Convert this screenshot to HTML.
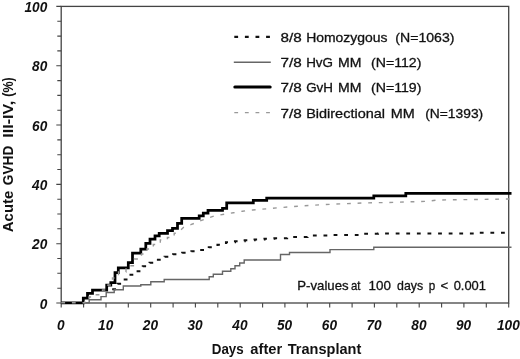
<!DOCTYPE html>
<html><head><meta charset="utf-8"><title>Acute GVHD III-IV</title>
<style>
html,body{margin:0;padding:0;background:#fff;}
svg{display:block;will-change:transform;}
text{font-family:"Liberation Sans",Arial,sans-serif;fill:#111;}
.bi{font-weight:bold;font-style:italic;font-size:14.8px;}
.b{font-weight:bold;font-size:14.2px;}
.r{font-size:13.2px;stroke:#111;stroke-width:0.3px;}
</style></head>
<body>
<svg width="520" height="359" viewBox="0 0 520 359">
<rect width="520" height="359" fill="#fff"/>
<rect x="61.2" y="6.4" width="447.5" height="296.6" fill="none" stroke="#444" stroke-width="1.3"/>
<path d="M56.3 303.0H61.2M57.3 288.2H61.2M57.3 273.3H61.2M57.3 258.5H61.2M56.3 243.7H61.2M57.3 228.8H61.2M57.3 214.0H61.2M57.3 199.2H61.2M56.3 184.4H61.2M57.3 169.5H61.2M57.3 154.7H61.2M57.3 139.9H61.2M56.3 125.0H61.2M57.3 110.2H61.2M57.3 95.4H61.2M57.3 80.6H61.2M56.3 65.7H61.2M57.3 50.9H61.2M57.3 36.1H61.2M57.3 21.2H61.2M56.3 6.4H61.2M61.2 303.0V307.5M83.6 303.0V307.5M106.0 303.0V307.5M128.3 303.0V307.5M150.7 303.0V307.5M173.1 303.0V307.5M195.4 303.0V307.5M217.8 303.0V307.5M240.2 303.0V307.5M262.6 303.0V307.5M284.9 303.0V307.5M307.3 303.0V307.5M329.7 303.0V307.5M352.1 303.0V307.5M374.4 303.0V307.5M396.8 303.0V307.5M419.2 303.0V307.5M441.6 303.0V307.5M463.9 303.0V307.5M486.3 303.0V307.5M508.7 303.0V307.5" stroke="#444" stroke-width="1.1" fill="none"/>
<text class="bi" x="39.7" y="308.5" textLength="7.6" lengthAdjust="spacingAndGlyphs">0</text>
<text class="bi" x="32.1" y="249.2" textLength="15.2" lengthAdjust="spacingAndGlyphs">20</text>
<text class="bi" x="32.1" y="189.9" textLength="15.2" lengthAdjust="spacingAndGlyphs">40</text>
<text class="bi" x="32.1" y="130.5" textLength="15.2" lengthAdjust="spacingAndGlyphs">60</text>
<text class="bi" x="32.1" y="71.2" textLength="15.2" lengthAdjust="spacingAndGlyphs">80</text>
<text class="bi" x="24.5" y="11.9" textLength="22.8" lengthAdjust="spacingAndGlyphs">100</text>
<text class="bi" x="57.1" y="330" textLength="7.6" lengthAdjust="spacingAndGlyphs">0</text>
<text class="bi" x="98.1" y="330" textLength="15.2" lengthAdjust="spacingAndGlyphs">10</text>
<text class="bi" x="142.8" y="330" textLength="15.2" lengthAdjust="spacingAndGlyphs">20</text>
<text class="bi" x="187.5" y="330" textLength="15.2" lengthAdjust="spacingAndGlyphs">30</text>
<text class="bi" x="232.3" y="330" textLength="15.2" lengthAdjust="spacingAndGlyphs">40</text>
<text class="bi" x="277.0" y="330" textLength="15.2" lengthAdjust="spacingAndGlyphs">50</text>
<text class="bi" x="321.8" y="330" textLength="15.2" lengthAdjust="spacingAndGlyphs">60</text>
<text class="bi" x="366.5" y="330" textLength="15.2" lengthAdjust="spacingAndGlyphs">70</text>
<text class="bi" x="411.3" y="330" textLength="15.2" lengthAdjust="spacingAndGlyphs">80</text>
<text class="bi" x="456.0" y="330" textLength="15.2" lengthAdjust="spacingAndGlyphs">90</text>
<text class="bi" x="497.0" y="330" textLength="22.8" lengthAdjust="spacingAndGlyphs">100</text>
<g transform="translate(13.1,232.2) rotate(-90)">
<text class="b" y="0"><tspan x="0" textLength="41.5" lengthAdjust="spacingAndGlyphs">Acute</tspan> <tspan x="47" textLength="39.5" lengthAdjust="spacingAndGlyphs">GVHD</tspan> <tspan x="94.5" textLength="37.0" lengthAdjust="spacingAndGlyphs">III-IV,</tspan> <tspan x="135.5" textLength="19.5" lengthAdjust="spacingAndGlyphs">(%)</tspan></text>
</g>
<text class="b" y="354.1"><tspan x="211.8" textLength="31.9" lengthAdjust="spacingAndGlyphs">Days</tspan> <tspan x="250.3" textLength="31.9" lengthAdjust="spacingAndGlyphs">after</tspan> <tspan x="287.8" textLength="73.5" lengthAdjust="spacingAndGlyphs">Transplant</tspan></text>
<text class="r" y="289.7"><tspan x="297.3" textLength="51.3" lengthAdjust="spacingAndGlyphs">P-values</tspan> <tspan x="351" textLength="9.5" lengthAdjust="spacingAndGlyphs">at</tspan> <tspan x="368.6" textLength="22.4" lengthAdjust="spacingAndGlyphs">100</tspan> <tspan x="397.1" textLength="26.1" lengthAdjust="spacingAndGlyphs">days</tspan> <tspan x="428.8" textLength="6.5" lengthAdjust="spacingAndGlyphs">p</tspan> <tspan x="440.5" textLength="7.7" lengthAdjust="spacingAndGlyphs">&lt;</tspan> <tspan x="453.7" textLength="32.3" lengthAdjust="spacingAndGlyphs">0.001</tspan></text>
<text class="r" y="41.8"><tspan x="280.6" textLength="21.2" lengthAdjust="spacingAndGlyphs">8/8</tspan> <tspan x="306.2" textLength="81.3" lengthAdjust="spacingAndGlyphs">Homozygous</tspan> <tspan x="395.3" textLength="59.2" lengthAdjust="spacingAndGlyphs">(N=1063)</tspan></text>
<text class="r" y="67.1"><tspan x="280.6" textLength="21.2" lengthAdjust="spacingAndGlyphs">7/8</tspan> <tspan x="306.2" textLength="26.8" lengthAdjust="spacingAndGlyphs">HvG</tspan> <tspan x="338" textLength="23.4" lengthAdjust="spacingAndGlyphs">MM</tspan> <tspan x="371" textLength="50.4" lengthAdjust="spacingAndGlyphs">(N=112)</tspan></text>
<text class="r" y="92.4"><tspan x="280.6" textLength="21.2" lengthAdjust="spacingAndGlyphs">7/8</tspan> <tspan x="306.2" textLength="26.8" lengthAdjust="spacingAndGlyphs">GvH</tspan> <tspan x="338" textLength="23.4" lengthAdjust="spacingAndGlyphs">MM</tspan> <tspan x="371" textLength="50.4" lengthAdjust="spacingAndGlyphs">(N=119)</tspan></text>
<text class="r" y="117.7"><tspan x="280.6" textLength="21.2" lengthAdjust="spacingAndGlyphs">7/8</tspan> <tspan x="306.2" textLength="78.8" lengthAdjust="spacingAndGlyphs">Bidirectional</tspan> <tspan x="390.8" textLength="24.0" lengthAdjust="spacingAndGlyphs">MM</tspan> <tspan x="425.2" textLength="58.0" lengthAdjust="spacingAndGlyphs">(N=1393)</tspan></text>
<path d="M234.3 36.9H270.6" stroke="#111" stroke-width="2.1" stroke-dasharray="3.8 6.8" fill="none"/>
<path d="M233.8 62.3H270.8" stroke="#666" stroke-width="1.4" fill="none"/>
<path d="M234.8 87.1H270.2" stroke="#000" stroke-width="3" stroke-linecap="round" fill="none"/>
<path d="M234.3 112.6H270.6" stroke="#999" stroke-width="1.4" stroke-dasharray="3.8 6.8" fill="none"/>
<path d="M112.2 289.2H114.1V289.2H116.0H117.5V283.7H119.0H122.4V279.5H125.8H128.9V274.7H132.0H135.8V271.2H139.7H142.8V266.3H145.8H149.6V262.8H153.3H156.9V259.7H160.5H164.6V256.7H168.7H173.1V254.2H177.5H182.2V252.8H187.0H191.4V251.2H195.8H200.0V250.0H204.2H208.8V247.2H213.3H217.5V244.7H221.7H226.0V242.2H230.3H235.0V241.2H239.7H244.7V240.3H249.7H254.6V239.5H259.5H264.5V238.7H269.5H274.4V238.3H279.2H287.1V237.0H295.0H307.5V235.5H320.0H332.5V235.0H345.0H357.5V233.8H370.0H378.0V233.5H386.0H430.5V233.5H475.0H477.5V232.8H480.0H495.5V232.8H511.0" stroke="#111" stroke-width="2.1" stroke-dasharray="3.8 6.8" fill="none"/>
<path d="M61.3 302.8H83.3V298.0H87.5V293.3H92.5V290.0H106.7V285.0H110.8V282.5H115.0V272.5H118.3V267.8H128.3V262.5H132.5V253.0H140.8V249.2H145.8V243.3H150.0V239.2H155.0V235.8H159.2V233.3H167.5V230.5H172.5V228.3H177.5V223.3H181.7V218.3H199.2V215.8H203.3V213.0H208.0V210.3H222.5V208.3H226.7V202.8H253.3V200.3H266.7V198.2H373.8V195.8H405.8V193.3H511.5V193.3" stroke="#000" stroke-width="2.75" fill="none" stroke-linejoin="miter"/>
<path d="M83.3 302.9H89.2V299.8H101.0V296.6H106.2V292.5H114.2V289.7H123.3V286.0H140.8V284.7H150.8V281.7H164.2V279.5H209.2V276.7H213.3V274.2H222.5V271.3H230.8V268.7H235.0V265.8H239.7V263.0H244.2V260.0H280.5V254.5H289.5V252.5H330.0V249.6H373.8V247.2H511.5V247.2" stroke="#666" stroke-width="1.4" fill="none"/>
<path d="M61.3 302.8H72.3V302.8H83.3H84.7V299.0H86.0H89.0V297.0H92.0H95.5V294.7H99.0H102.5V290.0H106.0H108.0V285.0H110.0H112.5V278.0H115.0H118.5V272.0H122.0H126.0V265.8H130.0H134.5V259.0H139.0H141.5V254.0H144.0H147.0V249.0H150.0H153.3V244.5H156.7H160.3V240.0H164.0H167.4V237.5H170.8H174.2V233.3H177.5L183.3 227.5L190.8 224.7L198.3 221.7L205.8 218.7L214.7 215.8L224.2 214.2L233.3 212.8L242.5 211.2L252.5 210.0L262.0 209.2L272.0 208.3L302.5 205.8L332.5 204.2L362.5 203.0L387.5 202.5L427.5 201.3L437.5 200.0L490.0 199.3L511.0 199.0" stroke="#999" stroke-width="1.4" stroke-dasharray="3.8 6.8" fill="none"/>
</svg>
</body></html>
